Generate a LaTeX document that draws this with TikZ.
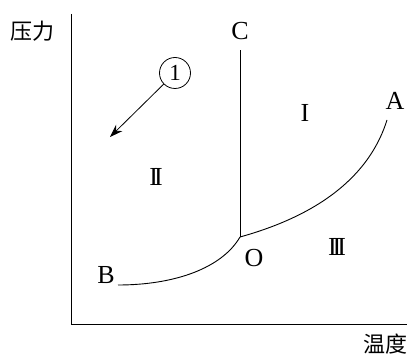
\documentclass[tikz,border=0pt]{standalone}
\usepackage{fontspec}
\usetikzlibrary{arrows.meta}
\setmainfont{Liberation Serif}
\newfontfamily\cjk{Noto Sans CJK SC}
\begin{document}
\begin{tikzpicture}[x=1pt,y=-1pt,
  lbl/.style={font=\fontsize{26}{29}\selectfont, inner sep=0pt},
  cjklbl/.style={font=\cjk\fontsize{22}{25}\selectfont, inner sep=0pt},
  curve/.style={line width=0.9pt}]
\useasboundingbox (0,0) rectangle (408,355);
% axes
\coordinate (ytop) at (71,14);
\coordinate (orig) at (71,325);
\coordinate (xend) at (407,325);
\draw[line width=1pt] (ytop) -- (orig) -- (xend);
\node[cjklbl] (p) at (32,31) {压力};
\node[cjklbl] (t) at (385,344) {温度};
% points
\coordinate (O) at (240,237);
\coordinate (A) at (387,120);
\coordinate (B) at (118,285);
\coordinate (C) at (240,50);
\draw[curve] (O) -- (C);
\draw[curve] (O) .. controls (330,212) and (372,168) .. (A);
\draw[curve] (B) .. controls (175,285) and (222,268) .. (O);
% labels
\node[lbl] (lC) at (240,31) {C};
\node[lbl] (lA) at (395,101) {A};
\node[lbl] (lB) at (106,275) {B};
\node[lbl] (lO) at (254,258) {O};
\node[lbl] (r1) at (305,113) {I};
\node[lbl] (r2) at (156,177) {I\kern-4pt I};
\node[lbl] (r3) at (337,247) {I\kern-4pt I\kern-4pt I};
% circled 1 with arrow
\node[draw, circle, minimum size=31pt, inner sep=0pt, line width=0.8pt, font=\fontsize{23}{26}\selectfont] (c1) at (175,73) {1};
\coordinate (tip) at (110,137);
\draw[-{Stealth[length=13pt,width=9pt]}, line width=0.8pt] (c1) -- (tip);
\end{tikzpicture}
\end{document}
